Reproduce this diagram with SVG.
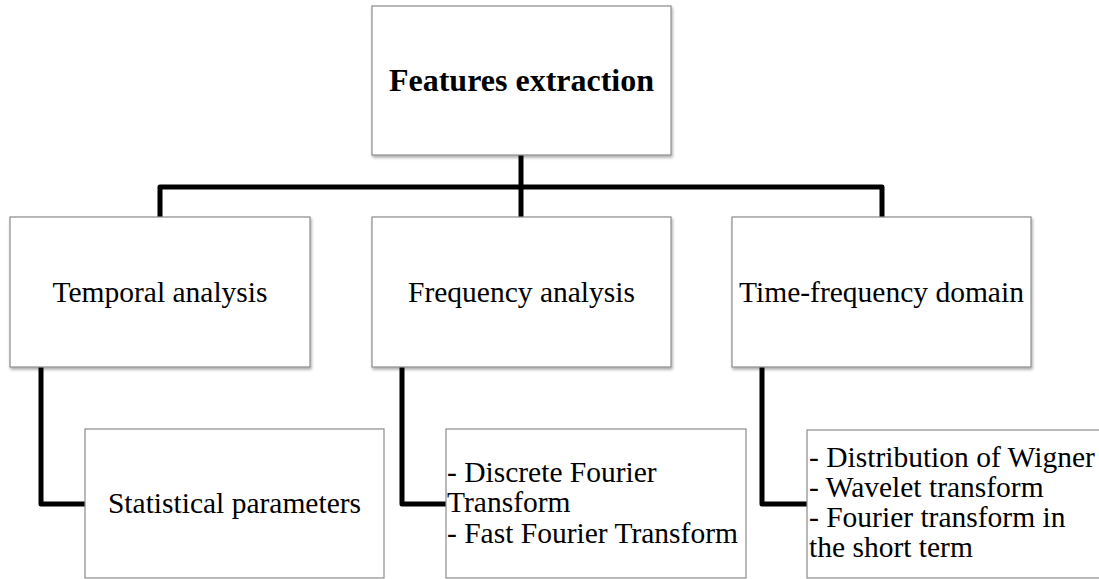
<svg xmlns="http://www.w3.org/2000/svg" width="1099" height="579" viewBox="0 0 1099 579">
<defs>
<filter id="sh" x="-5%" y="-5%" width="110%" height="115%">
<feDropShadow dx="1" dy="2" stdDeviation="1.5" flood-color="#000" flood-opacity="0.35"/>
</filter>
</defs>
<style>
.box{fill:#fff;stroke:#8c8c8c;stroke-width:1.2}
.conn{fill:none;stroke:#000;stroke-width:5;stroke-linejoin:round;stroke-linecap:butt}
</style>
<rect width="1099" height="579" fill="#fff"/>
<g id="connectors">
<path class="conn" d="M521,155 V187"/>
<path class="conn" d="M160,217 V187 H882 V217"/>
<path class="conn" d="M521,187 V217"/>
<path class="conn" d="M41,367 V504 H86"/>
<path class="conn" d="M402,367 V504 H447"/>
<path class="conn" d="M762,367 V504 H808"/>
</g>
<g id="features-extraction">
<rect class="box" x="372" y="6" width="299" height="149" filter="url(#sh)"/>
<text x="521.5" y="91" text-anchor="middle" font-family="Liberation Serif" font-weight="bold" font-size="32">Features extraction</text>
</g>
<g id="temporal-analysis">
<rect class="box" x="10" y="217" width="300" height="150" filter="url(#sh)"/>
<text x="160" y="302" text-anchor="middle" font-family="Liberation Serif" font-size="29.5">Temporal analysis</text>
</g>
<g id="frequency-analysis">
<rect class="box" x="372" y="217" width="299" height="150" filter="url(#sh)"/>
<text x="521.5" y="302" text-anchor="middle" font-family="Liberation Serif" font-size="29.5">Frequency analysis</text>
</g>
<g id="time-frequency-domain">
<rect class="box" x="732" y="217" width="299" height="150" filter="url(#sh)"/>
<text x="881.5" y="302" text-anchor="middle" font-family="Liberation Serif" font-size="29.5">Time-frequency domain</text>
</g>
<g id="statistical-parameters">
<rect class="box" x="85" y="429" width="299" height="149"/>
<text x="234.5" y="513" text-anchor="middle" font-family="Liberation Serif" font-size="29.5">Statistical parameters</text>
</g>
<g id="fourier-transforms">
<rect class="box" x="446" y="429" width="300" height="149"/>
<text x="447" y="482" font-family="Liberation Serif" font-size="29.5">- Discrete Fourier</text>
<text x="447" y="512" font-family="Liberation Serif" font-size="29.5">Transform</text>
<text x="447" y="543" font-family="Liberation Serif" font-size="29.5">- Fast Fourier Transform</text>
</g>
<g id="time-frequency-methods">
<rect class="box" x="807" y="430" width="300" height="148"/>
<text x="809" y="467" font-family="Liberation Serif" font-size="29.5">- Distribution of Wigner</text>
<text x="809" y="497" font-family="Liberation Serif" font-size="29.5">- Wavelet transform</text>
<text x="809" y="527" font-family="Liberation Serif" font-size="29.5">- Fourier transform in</text>
<text x="809" y="557" font-family="Liberation Serif" font-size="29.5">the short term</text>
</g>
</svg>
